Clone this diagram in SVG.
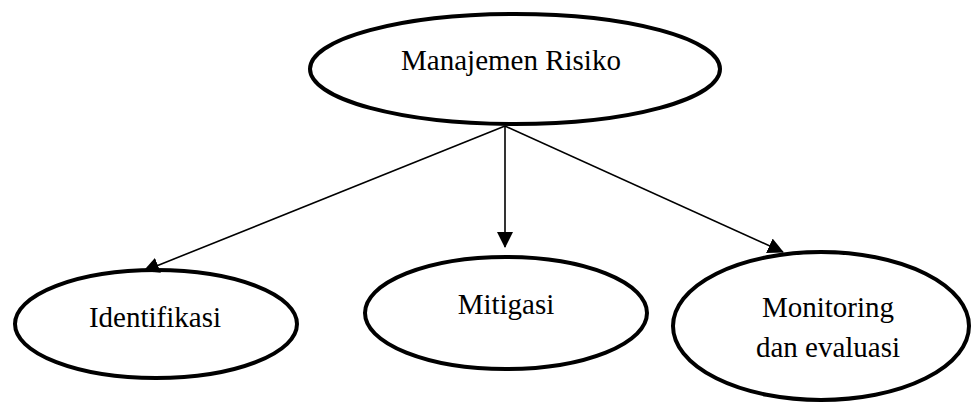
<svg xmlns="http://www.w3.org/2000/svg" width="971" height="403" viewBox="0 0 971 403">
<style>
.node ellipse{fill:#fff;stroke:#000;stroke-width:4}
.node text{font-family:"Liberation Serif","Times New Roman",serif;font-size:29px;fill:#000;text-anchor:middle}
.conn line{stroke:#000;stroke-width:1.6}
</style>
<defs>
<marker id="arr" markerUnits="userSpaceOnUse" markerWidth="16" markerHeight="16" viewBox="0 0 16 16" refX="15" refY="8" orient="auto">
<path d="M0,0 L16,8 L0,16 Z" fill="#000"/>
</marker>
</defs>
<rect width="971" height="403" fill="#fff"/>
<g id="n-manajemen" class="node">
<ellipse cx="515" cy="69" rx="205" ry="55"/>
<text x="511" y="70">Manajemen Risiko</text>
</g>
<g id="n-identifikasi" class="node">
<ellipse cx="156" cy="324" rx="141" ry="54"/>
<text x="155" y="327">Identifikasi</text>
</g>
<g id="n-mitigasi" class="node">
<ellipse cx="506" cy="313" rx="141" ry="56"/>
<text x="506" y="314">Mitigasi</text>
</g>
<g id="n-monitoring" class="node">
<ellipse cx="821" cy="326" rx="148" ry="74"/>
<text x="828" y="317">Monitoring</text>
<text x="828" y="357">dan evaluasi</text>
</g>
<g id="connectors" class="conn">
<line x1="505" y1="126" x2="144" y2="271" marker-end="url(#arr)"/>
<line x1="505" y1="126" x2="505" y2="247" marker-end="url(#arr)"/>
<line x1="505" y1="126" x2="783" y2="252" marker-end="url(#arr)"/>
</g>
</svg>
